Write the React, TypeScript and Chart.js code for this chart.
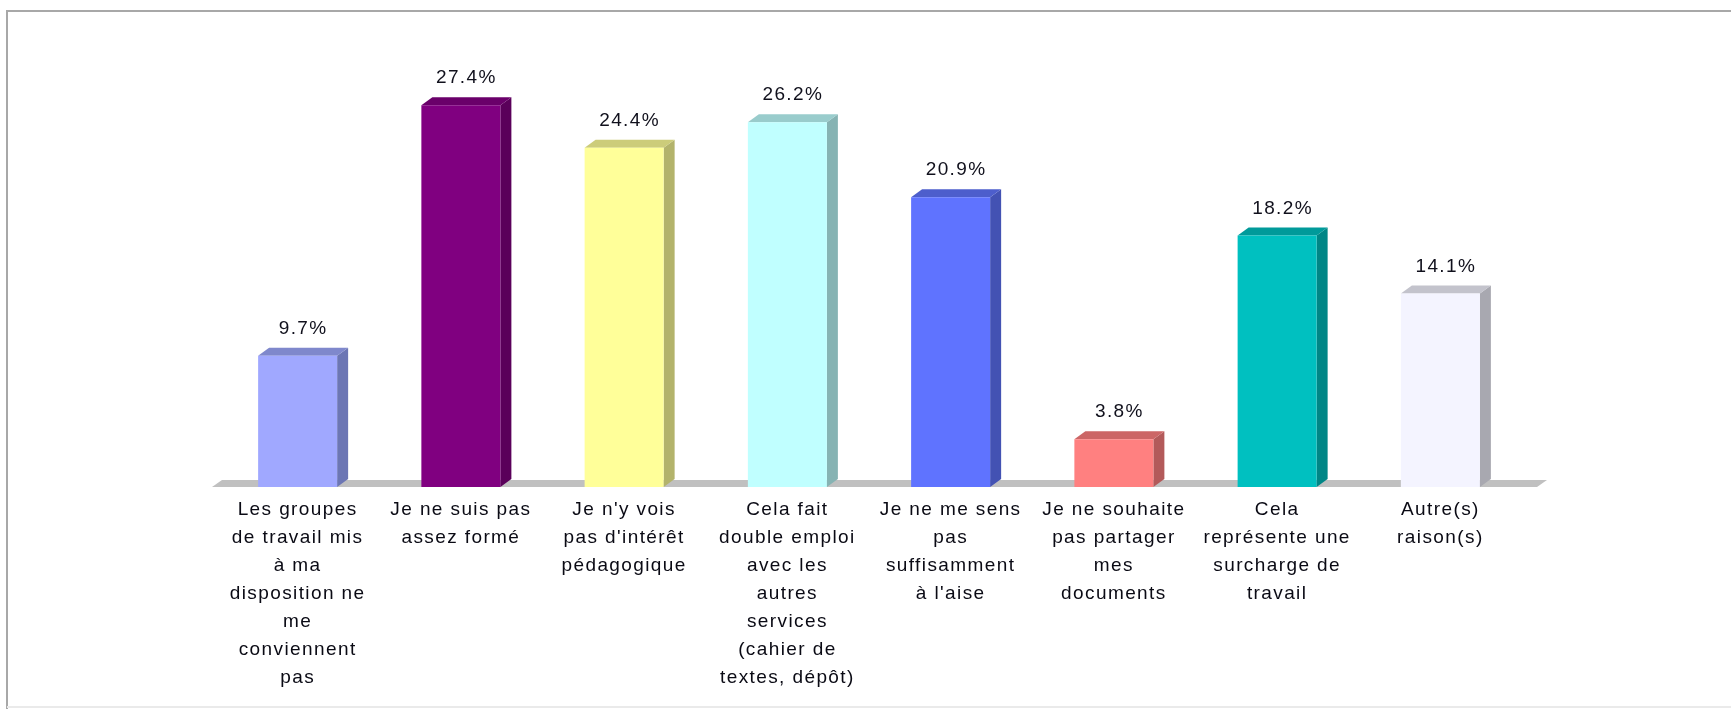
import React, { useEffect, useRef } from "react";
import { Chart, registerables } from "chart.js";

Chart.register(...registerables);

const categories: string[][] = [
  ["Les groupes", "de travail mis", "à ma", "disposition ne", "me", "conviennent", "pas"],
  ["Je ne suis pas", "assez formé"],
  ["Je n'y vois", "pas d'intérêt", "pédagogique"],
  ["Cela fait", "double emploi", "avec les", "autres", "services", "(cahier de", "textes, dépôt)"],
  ["Je ne me sens", "pas", "suffisamment", "à l'aise"],
  ["Je ne souhaite", "pas partager", "mes", "documents"],
  ["Cela", "représente une", "surcharge de", "travail"],
  ["Autre(s)", "raison(s)"],
];

const values: number[] = [9.7, 27.4, 24.4, 26.2, 20.9, 3.8, 18.2, 14.1];

const frontColors = ["#A0A8FF", "#800080", "#FFFF99", "#C0FFFF", "#5F73FF", "#FF8080", "#00C0C0", "#F4F4FF"];
const sideColors = ["#6C76B4", "#5A005A", "#B3B36B", "#86B3B3", "#4352B3", "#B35A5A", "#008686", "#A8A8B0"];
const topColors = ["#7F88CC", "#6A006A", "#CCCC7A", "#99CCCC", "#4D5ECC", "#CC6666", "#009A9A", "#C3C3CC"];

const yMin = 0.42;
const yMax = 30;
const DX = 11;
const DY = 8;
const FONT = "'Liberation Sans', Arial, sans-serif";
const SPACING = "1.4px";

const depthPlugin = {
  id: "depth3d",
  beforeUpdate(chart: any) {
    chart.ctx.letterSpacing = SPACING;
  },
  beforeDraw(chart: any) {
    const ctx = chart.ctx;
    ctx.letterSpacing = SPACING;
    ctx.save();
    ctx.fillStyle = "#ffffff";
    ctx.fillRect(0, 0, chart.width, chart.height);
    ctx.strokeStyle = "#A8A8A8";
    ctx.lineWidth = 2;
    ctx.beginPath();
    ctx.moveTo(7, chart.height);
    ctx.lineTo(7, 11);
    ctx.lineTo(chart.width, 11);
    ctx.stroke();
    ctx.strokeStyle = "#EAEAEA";
    ctx.lineWidth = 2;
    ctx.beginPath();
    ctx.moveTo(7, chart.height - 2);
    ctx.lineTo(chart.width, chart.height - 2);
    ctx.stroke();
    ctx.restore();
  },
  beforeDatasetsDraw(chart: any) {
    const ctx = chart.ctx;
    const { left, right, bottom } = chart.chartArea;
    ctx.save();
    // floor
    ctx.fillStyle = "#C0C0C0";
    ctx.beginPath();
    ctx.moveTo(left - 4, bottom);
    ctx.lineTo(right + 15, bottom);
    ctx.lineTo(right + 15 + 10, bottom - 7);
    ctx.lineTo(left - 4 + 10, bottom - 7);
    ctx.closePath();
    ctx.fill();
    // side and top faces
    const meta = chart.getDatasetMeta(0);
    meta.data.forEach((el: any, i: number) => {
      const { x, y, base, width } = el.getProps(["x", "y", "base", "width"], true);
      const b = Math.min(base, bottom);
      const l = x - width / 2;
      const r = x + width / 2;
      ctx.fillStyle = sideColors[i];
      ctx.beginPath();
      ctx.moveTo(r, b);
      ctx.lineTo(r + DX, b - DY);
      ctx.lineTo(r + DX, y - DY);
      ctx.lineTo(r, y);
      ctx.closePath();
      ctx.fill();
      ctx.fillStyle = topColors[i];
      ctx.beginPath();
      ctx.moveTo(l, y);
      ctx.lineTo(l + DX, y - DY);
      ctx.lineTo(r + DX, y - DY);
      ctx.lineTo(r, y);
      ctx.closePath();
      ctx.fill();
    });
    ctx.restore();
  },
  afterDatasetsDraw(chart: any) {
    const ctx = chart.ctx;
    const meta = chart.getDatasetMeta(0);
    ctx.save();
    ctx.letterSpacing = SPACING;
    ctx.font = `19px ${FONT}`;
    ctx.fillStyle = "#10101c";
    ctx.textAlign = "center";
    ctx.textBaseline = "middle";
    meta.data.forEach((el: any, i: number) => {
      const { x, y } = el.getProps(["x", "y"], true);
      ctx.fillText(values[i].toFixed(1) + "%", x + DX / 2, y - 27);
    });
    ctx.restore();
  },
};

export default function App() {
  const ref = useRef<HTMLCanvasElement>(null);
  useEffect(() => {
    document.body.style.margin = "0";
    const canvas = ref.current!;
    const chart = new Chart(canvas, {
      type: "bar",
      data: {
        labels: categories,
        datasets: [
          {
            data: values,
            backgroundColor: frontColors,
            borderWidth: 0,
            barPercentage: 0.484,
            categoryPercentage: 1,
          },
        ],
      },
      options: {
        responsive: false,
        animation: false,
        devicePixelRatio: 1,
        layout: { padding: { left: 216, right: 209, top: 68.4, bottom: 0 } },
        plugins: {
          legend: { display: false },
          tooltip: { enabled: false },
          title: { display: false },
        },
        scales: {
          x: {
            afterFit: (scale: any) => {
              scale.height = 222;
            },
            grid: { display: false, drawTicks: false },
            border: { display: false },
            ticks: {
              autoSkip: false,
              maxRotation: 0,
              minRotation: 0,
              padding: 9,
              color: "#0a0a14",
              font: { family: FONT, size: 19, lineHeight: 1.4737 },
            },
          },
          y: {
            display: false,
            min: yMin,
            max: yMax,
          },
        },
      },
      plugins: [depthPlugin],
    });
    return () => chart.destroy();
  }, []);
  return <canvas ref={ref} width={1731} height={709} style={{ display: "block", width: 1731, height: 709 }} />;
}
